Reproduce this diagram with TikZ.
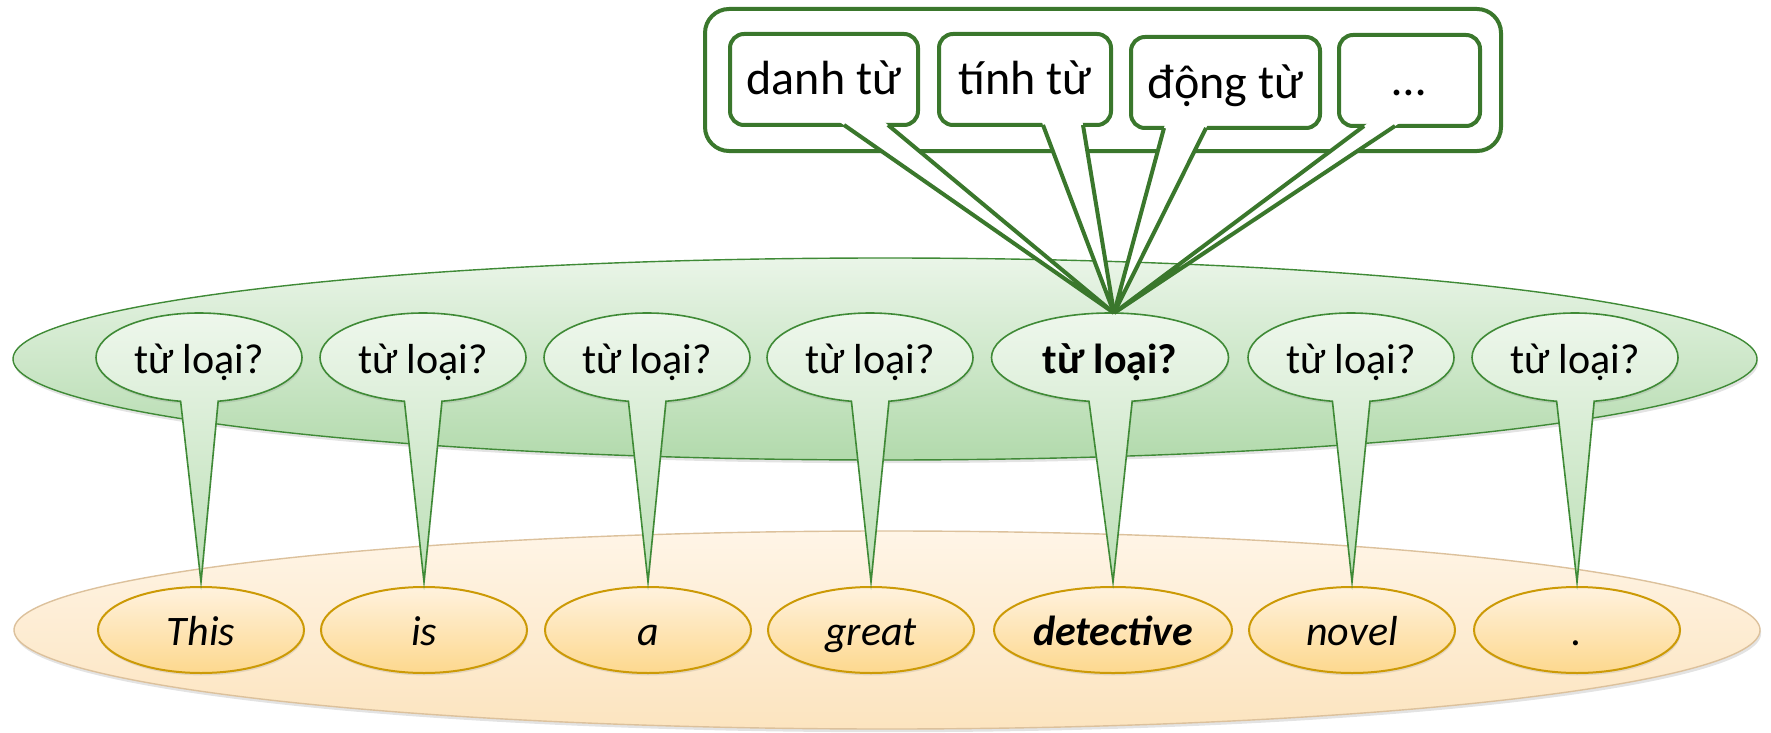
\documentclass[tikz,border=0pt]{standalone}
\usepackage{fontspec}
\setmainfont{Carlito}
\usetikzlibrary{shapes.geometric,shapes.callouts,shadows,calc}

\definecolor{boxline}{HTML}{3A772C}
\definecolor{qline}{HTML}{3F8A36}
\definecolor{bandtop}{HTML}{EAF5E8}
\definecolor{bandbot}{HTML}{B2DAAC}
\definecolor{qtop}{HTML}{EEF7EC}
\definecolor{qbot}{HTML}{BCDFB6}
\definecolor{sentline}{HTML}{DCC19C}
\definecolor{senttop}{HTML}{FFF5E7}
\definecolor{sentbot}{HTML}{FCE4BF}
\definecolor{wordline}{HTML}{CC9A06}
\definecolor{wordtop}{HTML}{FFF2DE}
\definecolor{wordbot}{HTML}{FDD88E}

\begin{document}
\begin{tikzpicture}[x=0.5pt,y=-0.5pt,
  every node/.style={inner sep=0pt,outer sep=0pt},
  band/.style={ellipse,line width=0.7pt,
    drop shadow={opacity=0.22,shadow xshift=0.6pt,shadow yshift=-1.6pt}},
  tagband/.style={band,draw=qline,top color=bandtop,bottom color=bandbot},
  sentband/.style={band,draw=sentline,top color=senttop,bottom color=sentbot},
  word/.style={ellipse,draw=wordline,line width=1pt,top color=wordtop,bottom color=wordbot,
    minimum width=103pt,minimum height=43pt,text height=15pt,text depth=0pt,
    font=\fontsize{21}{25}\selectfont\itshape,
    drop shadow={opacity=0.2,shadow xshift=0.4pt,shadow yshift=-1.2pt}},
  tag/.style={ellipse callout,draw=qline,line width=0.8pt,top color=qtop,bottom color=qbot,
    callout pointer arc=21,minimum width=103pt,minimum height=44.5pt,
    text height=15.5pt,text depth=0pt,font=\fontsize{21}{25}\selectfont,
    drop shadow={opacity=0.2,shadow xshift=0.4pt,shadow yshift=-1.2pt}},
  posbox/.style={rectangle,draw=boxline,line width=2pt,rounded corners=7pt,fill=white,
    minimum height=45.5pt,text height=15.5pt,text depth=0pt,
    font=\fontsize{24}{28}\selectfont},
  tailline/.style={draw=boxline,line width=2pt}]

\useasboundingbox (0,0) rectangle (1771,733);

% the two layers: sentence and tags
\node[sentband,minimum width=873pt,minimum height=99pt] (sent) at (887,630) {};
\node[tagband,minimum width=872pt,minimum height=101pt] (tags) at (885,359) {};

% words of the sentence
\foreach \n/\x/\w in {1/201/This,2/424/is,3/648/a,4/871/great,6/1352/novel,7/1577/.}
  \node[word] (o\n) at (\x,630) {\w};
\node[word,minimum width=119pt,font=\fontsize{21}{25}\selectfont\bfseries\itshape]
  (o5) at (1113,630) {detective};

% one tag question per word
\foreach \n/\x in {1/199,2/423,3/647,4/870,6/1351,7/1575}
  \node[tag,callout absolute pointer={($(o\n.north)+(0,-5)$)}] (q\n) at (\x,357.5) {từ loại?};
\node[tag,minimum width=118.5pt,font=\fontsize{21}{25}\selectfont\bfseries,
  callout absolute pointer={($(o5.north)+(0,-5)$)}] (q5) at (1110,357.5) {từ loại?};

% candidate parts of speech
\node[draw=boxline,line width=2pt,rounded corners=12pt,minimum width=398pt,minimum height=71pt]
  (poslist) at (1103,80) {};
\node[posbox,minimum width=94pt] (b1) at (824,79.5) {danh từ};
\node[posbox,minimum width=86pt] (b2) at (1025,79.5) {tính từ};
\node[posbox,minimum width=94.5pt] (b3) at (1225.5,82.5) {động từ};
\node[posbox,minimum width=70.5pt] (b4) at (1409.5,80.5) {…};

\coordinate (apex) at ($(q5.north)+(4,0)$);

\foreach \b/\l/\r in {b1/20/64,b2/18/58,b3/-61.5/-19.5,b4/-45.5/-14.5} {
  \coordinate (\b-l) at ($(\b.south)+(\l,0)$);
  \coordinate (\b-r) at ($(\b.south)+(\r,0)$);
}
\foreach \b in {b1,b2,b3,b4}
  \fill[white] ($(\b-l)!-0.03!(apex)$) -- (apex) -- ($(\b-r)!-0.03!(apex)$) -- cycle;
\foreach \b in {b1,b2,b3,b4}
  \draw[tailline] (\b-l) -- (apex) -- (\b-r);
\end{tikzpicture}
\end{document}
